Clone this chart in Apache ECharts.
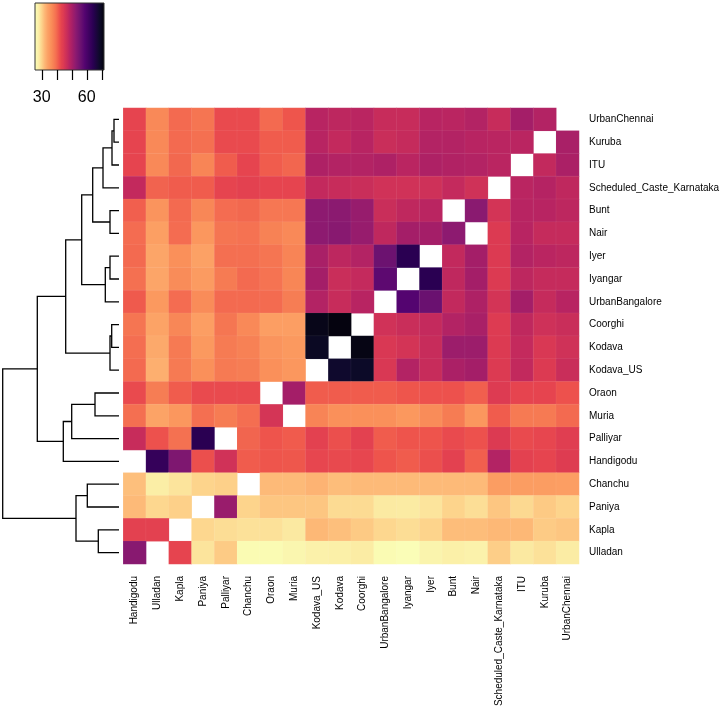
<!DOCTYPE html>
<html><head><meta charset="utf-8">
<script src="https://cdn.jsdelivr.net/npm/echarts@6/dist/echarts.min.js"></script>
<style>html,body{margin:0;padding:0;background:#fff}#c{width:728px;height:714px}</style>
</head><body><div id="c"></div>
<script>
// Column order (bottom labels, left to right)
const columns = ['Handigodu','Ulladan','Kapla','Paniya','Palliyar','Chanchu','Oraon','Muria','Kodava_US','Kodava','Coorghi','UrbanBangalore','Iyangar','Iyer','Bunt','Nair','Scheduled_Caste_Karnataka','ITU','Kuruba','UrbanChennai'];
// Row order (right labels, top to bottom)
const rowLabels = ['UrbanChennai','Kuruba','ITU','Scheduled_Caste_Karnataka','Bunt','Nair','Iyer','Iyangar','UrbanBangalore','Coorghi','Kodava','Kodava_US','Oraon','Muria','Palliyar','Handigodu','Chanchu','Paniya','Kapla','Ulladan'];

// Cell values per row (null = blank diagonal)
const rowUrbanChennai   = [43, 37, 40, 39, 42.5, 42.5, 40, 41.5, 48.5, 48, 48.3, 47, 47, 48.5, 48.3, 49, 47, 50.5, 49, null];
const rowKuruba         = [43, 37, 40, 39.5, 42.5, 42.5, 41, 41, 48.5, 47.5, 48.5, 46.8, 47.2, 49, 49, 48.5, 48.3, 48.3, null, 50];
const rowITU            = [43, 37, 40.2, 37.5, 41, 43, 41, 40.3, 49.5, 49, 49, 49.5, 48.3, 49.5, 49.2, 49, 48.3, null, 47.6, 49.8];
const rowSCK            = [47.5, 40.5, 41, 41, 43, 43.5, 43, 43, 47.5, 47, 46.8, 46, 46, 46.2, 47.4, 46.1, null, 48.3, 48.8, 47.8];
const rowBunt           = [40.8, 35.8, 40, 37.3, 39.8, 40.2, 38.8, 38.8, 52.5, 52.7, 51.7, 46.8, 47.8, 48.3, null, 52.8, 45.6, 48.5, 48.5, 48];
const rowNair           = [39.8, 34.5, 39.8, 35.5, 39, 39.3, 37.8, 37, 52.5, 53, 51.7, 47.8, 50.5, 50.5, 52.5, null, 44.6, 48.5, 47.2, 47.2];
const rowIyer           = [40, 33.8, 36.3, 34.3, 39.6, 39.6, 39, 37.6, 50, 48, 49, 55.8, 64, null, 47.6, 50.5, 44.6, 49, 48.3, 48];
const rowIyangar        = [39.5, 33.8, 36.7, 35, 38.5, 40, 39.2, 37.4, 50.5, 46.8, 47.4, 57.5, null, 64, 47.8, 50.5, 44.6, 48, 47.2, 47.2];
const rowUrbanBangalore = [41.2, 35.2, 39.8, 36.7, 40, 40, 39.9, 38.3, 49, 47, 48.5, null, 58.5, 56, 47.6, 49.5, 45.6, 50.5, 47.2, 48.5];
const rowCoorghi        = [39, 34, 37.2, 34.6, 38.9, 37, 34.6, 34.6, 70, 71, null, 46, 46.8, 47.4, 49, 50, 44.5, 47.8, 46.2, 46.8];
const rowKodava         = [39.7, 33.5, 38.6, 35.3, 38.5, 37.9, 35.8, 35.2, 69, null, 70.5, 45, 45.6, 47, 51.2, 51.2, 44.6, 47.4, 45, 46.1];
const rowKodavaUS       = [40, 33, 38.6, 36.3, 38.6, 38.3, 36.3, 35.5, null, 68, 68.5, 45, 49, 47, 49.8, 50.5, 44.6, 47.6, 44.6, 46.8];
const rowOraon          = [42.5, 38.3, 41, 42.5, 42.5, 42.5, null, 50.5, 41, 41, 41, 41, 41.5, 41.8, 41.8, 40.8, 44.4, 43, 43, 41.8];
const rowMuria          = [39.6, 34, 35.5, 39.6, 38.4, 39.7, 45.5, null, 37.6, 36.3, 36.3, 36.3, 35.4, 36.7, 38.4, 35.5, 41, 38.6, 38.6, 40];
const rowPalliyar       = [47, 41.8, 39.4, 64, null, 40.4, 41.6, 41.1, 43.5, 42, 43.5, 41, 41.6, 41.6, 42.5, 41.8, 44.6, 42.5, 42.8, 44];
const rowHandigodu      = [null, 62.5, 54, 42, 46, 41, 41.5, 41.4, 42.8, 42.6, 42.8, 41.6, 41, 42, 43.5, 40.8, 49, 43.5, 43, 44.3];
const rowChanchu        = [31.7, 28, 29, 30.2, 30.5, null, 32, 32, 32.6, 31.8, 32, 32, 32, 32, 32, 32, 34.8, 34.8, 34.8, 34.6];
const rowPaniya         = [32, 30, 30.5, null, 51.5, 30.2, 31.2, 31.2, 31.2, 29.7, 29.7, 28.5, 28.4, 29, 30.2, 29.4, 31.2, 29.8, 30.9, 30.2];
const rowKapla          = [43.5, 43.5, null, 30, 29.5, 29.2, 29.2, 28.6, 32.2, 31.7, 30.9, 30, 29.5, 30.2, 31.8, 31.8, 32.2, 32.2, 30.8, 31.2];
const rowUlladan        = [53, null, 43, 29, 30.8, 26.5, 26.5, 27, 27.6, 27.8, 28.2, 26.5, 26.2, 27.2, 27.8, 27.5, 30.6, 28.6, 29.2, 28.2];

// Dendrogram merges (strings = leaves, numbers = earlier merge, 1-based) and heights
const dendroMerges = [
  ['UrbanChennai','Kuruba'], [1,'ITU'], [2,'Scheduled_Caste_Karnataka'], ['Bunt','Nair'], [3,4],
  ['Iyer','Iyangar'], [6,'UrbanBangalore'], [5,7], ['Coorghi','Kodava'], [9,'Kodava_US'], [8,10],
  ['Oraon','Muria'], [12,'Palliyar'], [13,'Handigodu'], [11,14],
  ['Chanchu','Paniya'], ['Kapla','Ulladan'], [16,17], [15,18]
];
const dendroHeights = [5, 7, 16, 9, 26.3, 9, 13.7, 37.3, 7.3, 9, 53.3, 24, 47.3, 55.7, 81.7, 31.7, 20.7, 43, 116.3];

// Colour key
const keyMin = 25.5, keyMax = 71.5;
const keyTicks = [30, 40, 50, 60, 70];
const keyLabels = [30, 60];
// colour ramp anchors (value, colour)
const rampValues = [25.5, 26.2, 28.5, 30.2, 32, 34, 36.3, 38.5, 40, 41.5, 43, 44.6, 46, 47.4, 48.5, 50.5, 52.6, 55.8, 58.5, 64, 68.5, 71.5];
const rampColors = ['#FCFDBF','#FAFDB6','#FBEAA2','#FDD48C','#FDBA78','#FCA366','#FA905A','#F67B53','#F36A50','#EE554C','#E6444F','#DC3A52','#D03258','#C42A5C','#B82462','#A41E68','#8C1A70','#6C1270','#540470','#2A0052','#0C0A28','#03020A'];

function hex2rgb(h) { return [parseInt(h.slice(1,3),16), parseInt(h.slice(3,5),16), parseInt(h.slice(5,7),16)]; }
function rampAt(v) {
  if (v <= rampValues[0]) return rampColors[0];
  for (let i = 1; i < rampValues.length; i++) {
    if (v <= rampValues[i]) {
      const f = (v - rampValues[i-1]) / (rampValues[i] - rampValues[i-1]);
      const a = hex2rgb(rampColors[i-1]), b = hex2rgb(rampColors[i]);
      return 'rgb(' + a.map((x, k) => Math.round(x + (b[k] - x) * f)).join(',') + ')';
    }
  }
  return rampColors[rampColors.length - 1];
}
const NSTEP = 185;
const palette = [];
for (let i = 0; i < NSTEP; i++) palette.push(rampAt(keyMin + (keyMax - keyMin) * i / (NSTEP - 1)));

const matrix = [rowUrbanChennai,rowKuruba,rowITU,rowSCK,rowBunt,rowNair,rowIyer,rowIyangar,rowUrbanBangalore,rowCoorghi,rowKodava,rowKodavaUS,rowOraon,rowMuria,rowPalliyar,rowHandigodu,rowChanchu,rowPaniya,rowKapla,rowUlladan];
const heatData = [];
matrix.forEach((row, r) => row.forEach((v, c) => { heatData.push([c, r, v === null ? '-' : v]); }));

// dendrogram segments
const nodes = [];
function getNode(ref) {
  if (typeof ref === 'string') return { y: rowLabels.indexOf(ref), h: 0 };
  return nodes[ref - 1];
}
const dendroData = [];
dendroMerges.forEach((m, i) => {
  const a = getNode(m[0]), b = getNode(m[1]);
  const h = dendroHeights[i];
  dendroData.push([a.y, b.y, h, a.h, b.h]);
  nodes.push({ y: (a.y + b.y) / 2, h: h });
});

const font = 'Liberation Sans, Arial, sans-serif';
const gLeft = 123.3, gTop = 108, gW = 455.7, gH = 456;
const kx = 35, ky = 3, kw = 69, kh = 67;
const kScale = v => kx + (v - keyMin) / (keyMax - keyMin) * kw;

const graphics = [
  { type: 'rect', shape: { x: kx, y: ky, width: kw, height: kh },
    style: { fill: { type: 'linear', x: 0, y: 0, x2: 1, y2: 0,
      colorStops: palette.map((c, i) => ({ offset: i / (palette.length - 1), color: c })) },
      stroke: '#333', lineWidth: 1 } }
];
keyTicks.forEach(t => {
  const x = Math.round(kScale(t)) + 0.5;
  graphics.push({ type: 'line', shape: { x1: x, y1: ky + kh, x2: x, y2: ky + kh + 10 }, style: { stroke: '#000', lineWidth: 1.2 } });
});
keyLabels.forEach(t => {
  graphics.push({ type: 'text', x: kScale(t), y: 98, style: { text: String(t), font: '16px ' + font, fill: '#000', textAlign: 'center', textVerticalAlign: 'middle' } });
});

const chart = echarts.init(document.getElementById('c'));
chart.setOption({
  backgroundColor: '#fff',
  animation: false,
  grid: [
    { left: gLeft, top: gTop, width: gW, height: gH },
    { left: 2.7, top: gTop, width: 116.3, height: gH }
  ],
  xAxis: [
    { type: 'category', gridIndex: 0, data: columns, position: 'bottom',
      axisLine: { show: false }, axisTick: { show: false }, splitLine: { show: false },
      axisLabel: { rotate: 90, interval: 0, margin: 12, fontSize: 10, color: '#000', fontFamily: font } },
    { type: 'value', gridIndex: 1, min: 0, max: 116.3, inverse: true, show: false }
  ],
  yAxis: [
    { type: 'category', gridIndex: 0, data: rowLabels, inverse: true, position: 'right',
      axisLine: { show: false }, axisTick: { show: false }, splitLine: { show: false },
      axisLabel: { interval: 0, margin: 10, fontSize: 10, color: '#000', fontFamily: font } },
    { type: 'value', gridIndex: 1, min: -0.5, max: 19.5, inverse: true, show: false }
  ],
  visualMap: { show: false, type: 'continuous', min: keyMin, max: keyMax, seriesIndex: 0, dimension: 2,
    inRange: { color: palette } },
  graphic: graphics,
  series: [
    { type: 'heatmap', xAxisIndex: 0, yAxisIndex: 0, data: heatData,
      itemStyle: { borderWidth: 0.5, borderColor: 'rgba(255,255,255,0.12)' }, emphasis: { disabled: true } },
    { type: 'custom', xAxisIndex: 1, yAxisIndex: 1, data: dendroData, encode: { x: [2, 3, 4], y: [0, 1] },
      renderItem: function (params, api) {
        const yl = api.value(0), yr = api.value(1), h = api.value(2), hl = api.value(3), hr = api.value(4);
        const pts = [api.coord([hl, yl]), api.coord([h, yl]), api.coord([h, yr]), api.coord([hr, yr])];
        return { type: 'polyline', shape: { points: pts }, style: { stroke: '#000', lineWidth: 1.3, fill: null } };
      } }
  ]
});
</script></body></html>
